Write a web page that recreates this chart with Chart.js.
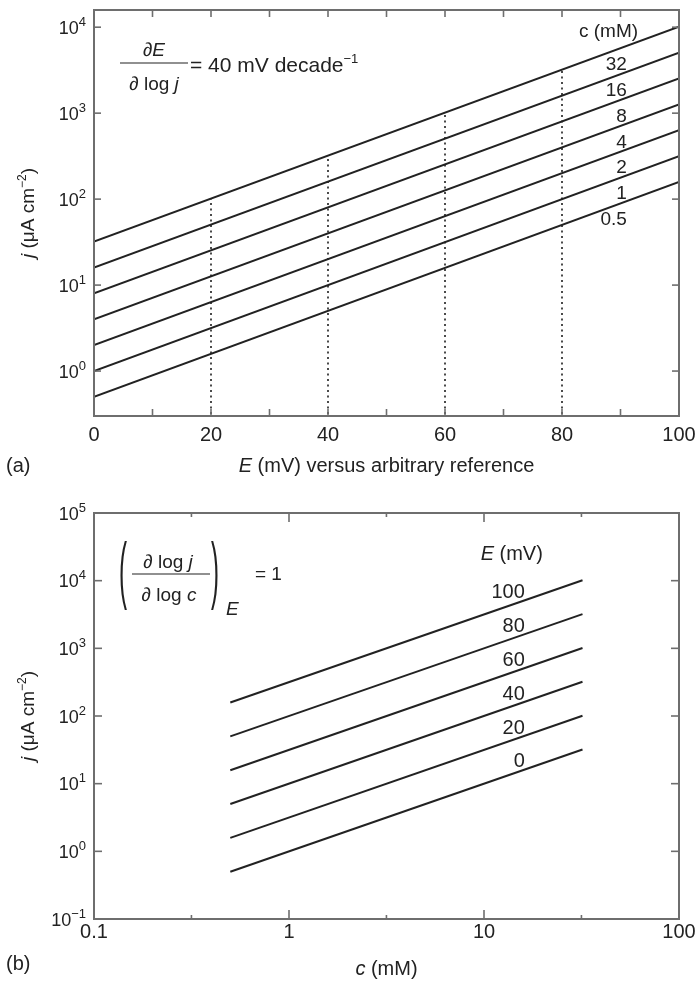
<!DOCTYPE html>
<html>
<head>
<meta charset="utf-8">
<script src="https://cdn.jsdelivr.net/npm/chart.js@4.4.1/dist/chart.umd.min.js"></script>
<style>
  html, body { margin: 0; padding: 0; background: #ffffff; }
  #wrapA { position: absolute; left: 0; top: 0; width: 698px; height: 490px; }
  #wrapB { position: absolute; left: 0; top: 490px; width: 698px; height: 493px; }
</style>
</head>
<body>
<div id="wrapA"><canvas id="chartA"></canvas></div>
<div id="wrapB"><canvas id="chartB"></canvas></div>
<script>
// ---------- Panel (a): j vs E, one line per concentration ----------
const aPotential = [0, 100];                                   // E (mV) at line ends
const aConcLabels = ['0.5', '1', '2', '4', '8', '16', '32'];   // c (mM)
const aCurrentStart = [0.5, 1, 2, 4, 8, 16, 32];               // j at E = 0
const aCurrentEnd = [158, 316, 632, 1265, 2530, 5060, 10120];  // j at E = 100
const aGuidePotential = [20, 40, 60, 80];                      // dotted guides
const aGuideTop = [101, 320, 1012, 3200];                      // guide top (on c = 32 line)
const aYRange = [0.316, 15850];
const aXTicks = [0, 20, 40, 60, 80, 100];
const aXTickMarks = [10, 20, 30, 40, 50, 60, 70, 80, 90];
const aYTicks = [1, 10, 100, 1000, 10000];
const aYTickExponents = ['0', '1', '2', '3', '4'];

// ---------- Panel (b): j vs c, one line per potential ----------
const bConc = [0.5, 32];                                       // c (mM) at line ends
const bPotentialLabels = ['0', '20', '40', '60', '80', '100']; // E (mV)
const bCurrentStart = [0.5, 1.58, 5, 15.8, 50, 158];           // j at c = 0.5
const bCurrentEnd = [32, 101, 320, 1012, 3200, 10120];         // j at c = 32
const bXRange = [0.1, 100];
const bYRange = [0.1, 100000];
const bXTicks = [0.1, 1, 10, 100];
const bXTickLabels = ['0.1', '1', '10', '100'];
const bXMinorMarks = [0.316, 3.16, 31.6];
const bYTicks = [0.1, 1, 10, 100, 1000, 10000, 100000];
const bYTickExponents = ['\u22121', '0', '1', '2', '3', '4', '5'];

// ---------- styling helpers ----------
const FONT = '"Liberation Sans", Arial, Helvetica, sans-serif';
const INK = '#222222';
const FRAME = '#6e6e6e';
const fnt = (size, italic) => (italic ? 'italic ' : '') + size + 'px ' + FONT;

function seg(ctx, x1, y1, x2, y2) { ctx.beginPath(); ctx.moveTo(x1, y1); ctx.lineTo(x2, y2); ctx.stroke(); }

function runsWidth(ctx, runs) {
  let w = 0;
  runs.forEach(r => { ctx.font = r.f; w += ctx.measureText(r.t).width; });
  return w;
}
function drawRuns(ctx, runs, x, y, align) {
  const w = runsWidth(ctx, runs);
  let cx = align === 'center' ? x - w / 2 : align === 'right' ? x - w : x;
  ctx.textAlign = 'left';
  ctx.textBaseline = 'alphabetic';
  runs.forEach(r => {
    ctx.font = r.f;
    ctx.fillText(r.t, cx, y + (r.dy || 0));
    cx += ctx.measureText(r.t).width;
  });
}
function yOnLine(meta, px) {
  const p0 = meta.data[0], p1 = meta.data[meta.data.length - 1];
  return p0.y + (p1.y - p0.y) * (px - p0.x) / (p1.x - p0.x);
}
function drawFrameTicks(chart, xMarks, yMarks) {
  const ctx = chart.ctx, ca = chart.chartArea, xs = chart.scales.x, ys = chart.scales.y;
  ctx.save();
  ctx.strokeStyle = FRAME;
  ctx.lineWidth = 1.6;
  xMarks.forEach(m => {
    const px = xs.getPixelForValue(m.v);
    seg(ctx, px, ca.bottom, px, ca.bottom - m.len);
    seg(ctx, px, ca.top, px, ca.top + m.len);
  });
  yMarks.forEach(m => {
    const py = ys.getPixelForValue(m.v);
    seg(ctx, ca.left, py, ca.left + m.len, py);
    seg(ctx, ca.right, py, ca.right - m.len, py);
  });
  ctx.lineWidth = 2;
  ctx.strokeRect(ca.left, ca.top, ca.right - ca.left, ca.bottom - ca.top);
  ctx.restore();
}
// y tick labels: power-of-ten with a raised exponent, placed via the y scale
function drawPowerTicks(chart, values, exps) {
  const ctx = chart.ctx, ca = chart.chartArea, ys = chart.scales.y;
  ctx.save();
  ctx.fillStyle = INK;
  values.forEach((v, i) => {
    const py = ys.getPixelForValue(v);
    drawRuns(ctx, [{ t: '10', f: fnt(18) }, { t: exps[i], f: fnt(13), dy: -8 }], ca.left - 8, py + 6.5, 'right');
  });
  ctx.restore();
}
function drawYTitle(ctx, cx, cy) {
  ctx.save();
  ctx.translate(cx, cy);
  ctx.rotate(-Math.PI / 2);
  ctx.fillStyle = INK;
  drawRuns(ctx, [
    { t: 'j', f: fnt(19, true) },
    { t: ' (\u03BCA cm', f: fnt(19) },
    { t: '\u22122', f: fnt(12), dy: -8 },
    { t: ')', f: fnt(19) }
  ], 0, 0, 'center');
  ctx.restore();
}
function bigParen(ctx, ch, x, yc, sy) {
  ctx.save();
  ctx.translate(x, yc);
  ctx.scale(1, sy);
  ctx.font = fnt(24);
  ctx.textAlign = 'center';
  ctx.textBaseline = 'middle';
  ctx.fillText(ch, 0, 0);
  ctx.restore();
}
const zeroPadX = s => { s.paddingLeft = 0; s.paddingRight = 0; };
const zeroPadY = s => { s.paddingTop = 0; s.paddingBottom = 0; };

const whiteBg = {
  id: 'whiteBg',
  beforeDraw(chart) {
    const ctx = chart.ctx;
    ctx.save();
    ctx.fillStyle = '#ffffff';
    ctx.fillRect(0, 0, chart.width, chart.height);
    ctx.restore();
  }
};

// ---------- Chart (a) ----------
const lineSetsA = aConcLabels.map((lab, i) => ({
  label: 'c = ' + lab + ' mM',
  data: [{ x: aPotential[0], y: aCurrentStart[i] }, { x: aPotential[1], y: aCurrentEnd[i] }],
  borderColor: INK, borderWidth: 2, pointRadius: 0, fill: false, tension: 0, order: 0
}));
const guideSetsA = aGuidePotential.map((e, i) => ({
  label: 'E = ' + e + ' mV guide',
  data: [{ x: e, y: aYRange[0] }, { x: e, y: aGuideTop[i] }],
  borderColor: '#4a4a4a', borderWidth: 2, borderDash: [2, 3.5], pointRadius: 0, fill: false, order: 1
}));

const annotA = {
  id: 'annotA',
  afterDraw(chart) {
    const ctx = chart.ctx, ca = chart.chartArea, xs = chart.scales.x;
    drawFrameTicks(chart,
      aXTickMarks.map(v => ({ v: v, len: 7 })),
      aYTicks.map(v => ({ v: v, len: 7 })));
    drawPowerTicks(chart, aYTicks, aYTickExponents);
    ctx.save();
    ctx.fillStyle = INK;
    ctx.strokeStyle = INK;
    // concentration labels just below each line
    const R = xs.getPixelForValue(91.1);
    aConcLabels.forEach((lab, i) => {
      const y = yOnLine(chart.getDatasetMeta(guideSetsA.length + i), R);
      ctx.font = fnt(19);
      ctx.textAlign = 'right';
      ctx.textBaseline = 'alphabetic';
      ctx.fillText(lab, R, y + 24);
    });
    const RH = xs.getPixelForValue(93);
    const yTop = yOnLine(chart.getDatasetMeta(guideSetsA.length + aConcLabels.length - 1), RH);
    ctx.font = fnt(19);
    ctx.textAlign = 'right';
    ctx.fillText('c (mM)', RH, yTop - 5);
    // formula
    const L = ca.left, T = ca.top;
    ctx.lineWidth = 1.2;
    seg(ctx, L + 26, T + 53, L + 94, T + 53);
    drawRuns(ctx, [{ t: '\u2202', f: fnt(19) }, { t: 'E', f: fnt(19, true) }], L + 60, T + 46, 'center');
    drawRuns(ctx, [{ t: '\u2202 log ', f: fnt(19) }, { t: 'j', f: fnt(19, true) }], L + 60, T + 80, 'center');
    drawRuns(ctx, [{ t: '= 40 mV decade', f: fnt(21) }, { t: '\u22121', f: fnt(13), dy: -9 }], L + 96, T + 62, 'left');
    // axis titles
    drawRuns(ctx, [{ t: 'E', f: fnt(20, true) }, { t: ' (mV) versus arbitrary reference', f: fnt(20) }],
      (ca.left + ca.right) / 2, 472, 'center');
    drawRuns(ctx, [{ t: '(a)', f: fnt(20) }], 6, 472, 'left');
    drawYTitle(ctx, 34, (ca.top + ca.bottom) / 2);
    ctx.restore();
  }
};

new Chart(document.getElementById('chartA'), {
  type: 'line',
  data: { datasets: guideSetsA.concat(lineSetsA) },
  options: {
    responsive: true, maintainAspectRatio: false, animation: false,
    layout: { padding: { left: 0, right: 19, top: 10, bottom: 0 } },
    plugins: { legend: { display: false }, tooltip: { enabled: false } },
    scales: {
      x: {
        type: 'linear', min: 0, max: 100,
        afterBuildTicks: s => { s.ticks = aXTicks.map(v => ({ value: v })); },
        afterFit: s => { s.height = 74; zeroPadX(s); },
        grid: { display: false, drawTicks: false }, border: { display: false },
        ticks: { autoSkip: false, maxRotation: 0, padding: 7, color: INK, font: { family: FONT, size: 20 } }
      },
      y: {
        type: 'logarithmic', min: aYRange[0], max: aYRange[1],
        afterBuildTicks: s => { s.ticks = aYTicks.map(v => ({ value: v })); },
        afterFit: s => { s.width = 94; zeroPadY(s); },
        grid: { display: false, drawTicks: false }, border: { display: false },
        ticks: { display: false }
      }
    }
  },
  plugins: [whiteBg, annotA]
});

// ---------- Chart (b) ----------
const lineSetsB = bPotentialLabels.map((lab, i) => ({
  label: 'E = ' + lab + ' mV',
  data: [{ x: bConc[0], y: bCurrentStart[i] }, { x: bConc[1], y: bCurrentEnd[i] }],
  borderColor: INK, borderWidth: 2, pointRadius: 0, fill: false, tension: 0
}));

const annotB = {
  id: 'annotB',
  afterDraw(chart) {
    const ctx = chart.ctx, ca = chart.chartArea, xs = chart.scales.x;
    drawFrameTicks(chart,
      bXTicks.map(v => ({ v: v, len: 9 })).concat(bXMinorMarks.map(v => ({ v: v, len: 4 }))),
      bYTicks.map(v => ({ v: v, len: 8 })));
    drawPowerTicks(chart, bYTicks, bYTickExponents);
    ctx.save();
    ctx.fillStyle = INK;
    ctx.strokeStyle = INK;
    // potential labels just above each line
    const R = xs.getPixelForValue(16.2);
    let topBase = 0;
    bPotentialLabels.forEach((lab, i) => {
      const y = yOnLine(chart.getDatasetMeta(i), R) - 2;
      ctx.font = fnt(20);
      ctx.textAlign = 'right';
      ctx.textBaseline = 'alphabetic';
      ctx.fillText(lab, R, y);
      topBase = y;
    });
    drawRuns(ctx, [{ t: 'E', f: fnt(20, true) }, { t: ' (mV)', f: fnt(20) }], R + 18, topBase - 38, 'right');
    // formula
    const L = ca.left, T = ca.top;
    bigParen(ctx, '(', L + 29, T + 61, 3.1);
    bigParen(ctx, ')', L + 121, T + 61, 3.1);
    ctx.lineWidth = 1.2;
    seg(ctx, L + 38, T + 61, L + 116, T + 61);
    drawRuns(ctx, [{ t: '\u2202 log ', f: fnt(19) }, { t: 'j', f: fnt(19, true) }], L + 74, T + 55, 'center');
    drawRuns(ctx, [{ t: '\u2202 log ', f: fnt(19) }, { t: 'c', f: fnt(19, true) }], L + 75, T + 88, 'center');
    drawRuns(ctx, [{ t: 'E', f: fnt(19, true) }], L + 132, T + 102, 'left');
    drawRuns(ctx, [{ t: '= 1', f: fnt(19) }], L + 161, T + 67, 'left');
    // axis titles
    drawRuns(ctx, [{ t: 'c', f: fnt(20, true) }, { t: ' (mM)', f: fnt(20) }], (ca.left + ca.right) / 2, 485, 'center');
    drawRuns(ctx, [{ t: '(b)', f: fnt(20) }], 6, 480, 'left');
    drawYTitle(ctx, 34, (ca.top + ca.bottom) / 2);
    ctx.restore();
  }
};

new Chart(document.getElementById('chartB'), {
  type: 'line',
  data: { datasets: lineSetsB },
  options: {
    responsive: true, maintainAspectRatio: false, animation: false,
    layout: { padding: { left: 0, right: 19, top: 23, bottom: 0 } },
    plugins: { legend: { display: false }, tooltip: { enabled: false } },
    scales: {
      x: {
        type: 'logarithmic', min: bXRange[0], max: bXRange[1],
        afterBuildTicks: s => { s.ticks = bXTicks.map(v => ({ value: v })); },
        afterFit: s => { s.height = 64; zeroPadX(s); },
        grid: { display: false, drawTicks: false }, border: { display: false },
        ticks: { autoSkip: false, maxRotation: 0, padding: 1, color: INK, font: { family: FONT, size: 20 },
          callback: (v, i) => bXTickLabels[i] }
      },
      y: {
        type: 'logarithmic', min: bYRange[0], max: bYRange[1],
        afterBuildTicks: s => { s.ticks = bYTicks.map(v => ({ value: v })); },
        afterFit: s => { s.width = 94; zeroPadY(s); },
        grid: { display: false, drawTicks: false }, border: { display: false },
        ticks: { display: false }
      }
    }
  },
  plugins: [whiteBg, annotB]
});
</script>
</body>
</html>
